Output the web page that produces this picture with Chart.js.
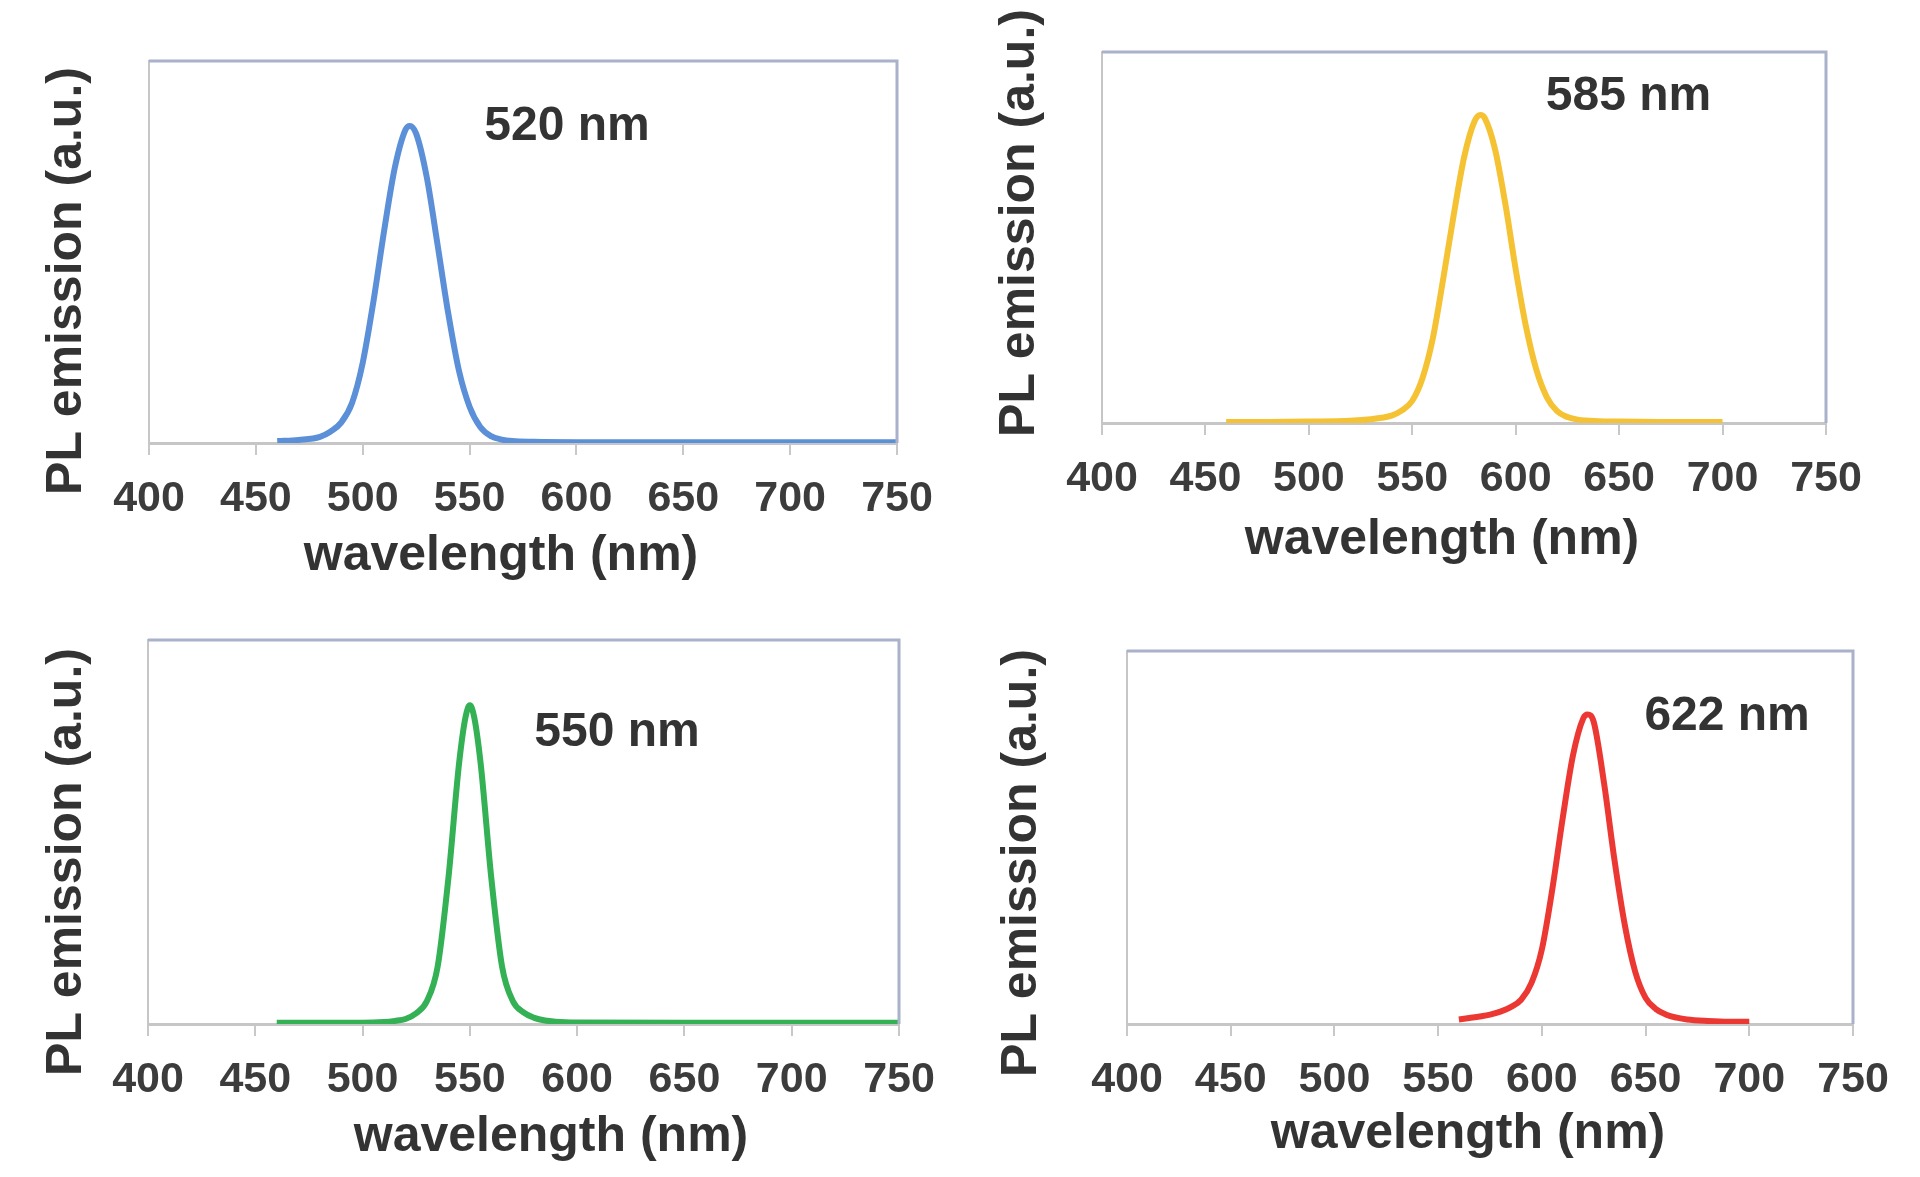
<!DOCTYPE html>
<html>
<head>
<meta charset="utf-8">
<title>PL emission spectra</title>
<script src="https://cdn.jsdelivr.net/npm/chart.js@4.4.1/dist/chart.umd.min.js"></script>
<style>
    html, body { margin: 0; padding: 0; background: #fff; }
    body { width: 1920px; height: 1177px; position: relative; overflow: hidden; }
    canvas { position: absolute; }
</style>
</head>
<body>
<canvas id="c520"></canvas>
<canvas id="c585"></canvas>
<canvas id="c550"></canvas>
<canvas id="c622"></canvas>
<script>
// x axis ticks (nm)
const waveTicks = [400, 450, 500, 550, 600, 650, 700, 750];

// blue, 520 nm
const wl520 = [460, 470, 480, 485, 490, 495, 500, 505, 510, 515, 520, 522, 525, 530, 535, 540, 545, 550, 555, 560, 565, 570, 580, 600, 650, 700, 750];
const pl520 = [0.005, 0.008, 0.016, 0.03, 0.054, 0.105, 0.21, 0.37, 0.555, 0.72, 0.82, 0.83, 0.81, 0.695, 0.52, 0.34, 0.19, 0.095, 0.042, 0.018, 0.009, 0.005, 0.003, 0.002, 0.002, 0.002, 0.002];

// yellow, 585 nm
const wl585 = [460, 480, 500, 520, 530, 535, 540, 545, 550, 555, 560, 565, 570, 575, 580, 583, 585, 590, 595, 600, 605, 610, 615, 620, 625, 630, 640, 650, 670, 700];
const pl585 = [0.003, 0.003, 0.004, 0.006, 0.01, 0.014, 0.02, 0.034, 0.06, 0.122, 0.23, 0.39, 0.56, 0.715, 0.812, 0.83, 0.822, 0.738, 0.59, 0.414, 0.259, 0.143, 0.07, 0.032, 0.016, 0.009, 0.005, 0.004, 0.003, 0.003];

// green, 550 nm
const wl550 = [460, 480, 500, 510, 515, 520, 525, 530, 535, 540, 545, 548, 550, 552, 555, 560, 565, 570, 575, 580, 585, 590, 600, 650, 700, 750];
const pl550 = [0.003, 0.003, 0.003, 0.005, 0.008, 0.013, 0.028, 0.06, 0.15, 0.38, 0.68, 0.8, 0.83, 0.8, 0.68, 0.38, 0.15, 0.06, 0.03, 0.016, 0.009, 0.006, 0.004, 0.003, 0.003, 0.003];

// red, 622 nm
const wl622 = [560, 565, 570, 575, 580, 585, 590, 595, 600, 605, 610, 615, 620, 622, 625, 630, 635, 640, 645, 650, 655, 660, 665, 670, 680, 690, 700];
const pl622 = [0.012, 0.016, 0.02, 0.025, 0.033, 0.045, 0.065, 0.11, 0.2, 0.36, 0.55, 0.72, 0.82, 0.83, 0.81, 0.645, 0.44, 0.265, 0.14, 0.07, 0.04, 0.025, 0.017, 0.012, 0.008, 0.006, 0.006];

const X_TITLE = 'wavelength (nm)';
const Y_TITLE = 'PL emission (a.u.)';

const FONT = "'Liberation Sans', Arial, sans-serif";
const PAD_TOP = 70;
const PAD_RIGHT = 70;
const X_AXIS_H = 150;

// area = plot box on the page; xTitle / yTitle = title centres on the page
const panels = [
    { id: 'c520', wl: wl520, pl: pl520, color: '#5b8fd8', label: '520 nm', labelAt: [595.6, 0.827],
      area: { l: 149, r: 897, t: 61, b: 443 }, yAxisW: 110, xTitle: [501, 556], yTitle: [67, 281] },
    { id: 'c585', wl: wl585, pl: pl585, color: '#f5c234', label: '585 nm', labelAt: [654.5, 0.879],
      area: { l: 1102, r: 1826, t: 52, b: 423 }, yAxisW: 111, xTitle: [1442, 540], yTitle: [1020, 223] },
    { id: 'c550', wl: wl550, pl: pl550, color: '#34b055', label: '550 nm', labelAt: [618.6, 0.758],
      area: { l: 148, r: 899, t: 640, b: 1024 }, yAxisW: 110, xTitle: [551, 1137], yTitle: [67, 862] },
    { id: 'c622', wl: wl622, pl: pl622, color: '#ec3833', label: '622 nm', labelAt: [689.3, 0.823],
      area: { l: 1127, r: 1853, t: 651, b: 1024 }, yAxisW: 133, xTitle: [1468, 1134], yTitle: [1022, 863] },
];

// light frame on the top and right edges, axis titles and the peak label
const framePlugin = {
    id: 'frameAndLabel',
    afterDraw(chart, args, opts) {
        const { ctx, chartArea: a, scales } = chart;
        ctx.save();
        ctx.strokeStyle = '#aab2cb';
        ctx.lineWidth = 3;
        ctx.beginPath();
        ctx.moveTo(a.left, a.top);
        ctx.lineTo(a.right, a.top);
        ctx.lineTo(a.right, a.bottom);
        ctx.stroke();

        ctx.fillStyle = '#333';
        ctx.textAlign = 'center';
        ctx.textBaseline = 'middle';
        ctx.font = `bold 48px ${FONT}`;
        ctx.fillText(opts.text, scales.x.getPixelForValue(opts.at[0]), scales.y.getPixelForValue(opts.at[1]));

        ctx.font = `bold 50px ${FONT}`;
        ctx.fillText(X_TITLE, opts.xTitle[0] - opts.origin[0], opts.xTitle[1] - opts.origin[1]);

        ctx.translate(opts.yTitle[0] - opts.origin[0], opts.yTitle[1] - opts.origin[1]);
        ctx.rotate(-Math.PI / 2);
        ctx.fillText(Y_TITLE, 0, 0);
        ctx.restore();
    },
};

panels.forEach((p) => {
    const canvas = document.getElementById(p.id);
    const w = p.yAxisW + (p.area.r - p.area.l) + PAD_RIGHT;
    const h = PAD_TOP + (p.area.b - p.area.t) + X_AXIS_H;
    const left = p.area.l - p.yAxisW;
    const top = p.area.t - PAD_TOP;
    canvas.width = w;
    canvas.height = h;
    canvas.style.width = `${w}px`;
    canvas.style.height = `${h}px`;
    canvas.style.left = `${left}px`;
    canvas.style.top = `${top}px`;

    new Chart(canvas, {
        type: 'line',
        data: {
            datasets: [{
                data: p.wl.map((x, i) => ({ x, y: p.pl[i] })),
                borderColor: p.color,
                borderWidth: 6,
                pointRadius: 0,
                cubicInterpolationMode: 'monotone',
                fill: false,
            }],
        },
        options: {
            responsive: false,
            animation: false,
            layout: { autoPadding: false, padding: { top: PAD_TOP, right: PAD_RIGHT, left: 0, bottom: 0 } },
            scales: {
                x: {
                    type: 'linear',
                    min: 400,
                    max: 750,
                    afterBuildTicks(scale) {
                        scale.ticks = waveTicks.map((value) => ({ value }));
                    },
                    afterFit(scale) { scale.height = X_AXIS_H; },
                    ticks: {
                        color: '#3c3c3c',
                        font: { family: FONT, size: 43, weight: 'bold' },
                        padding: 18,
                        maxRotation: 0,
                        autoSkip: false,
                    },
                    grid: {
                        drawOnChartArea: false,
                        drawTicks: true,
                        tickLength: 12,
                        color: '#c8c8c8',
                        lineWidth: 2,
                    },
                    border: { color: '#c6c6c6', width: 3 },
                },
                y: {
                    min: 0,
                    max: 1,
                    afterFit(scale) { scale.width = p.yAxisW; },
                    ticks: { display: false },
                    grid: { display: false },
                    border: { color: '#c6c6c6', width: 2 },
                },
            },
            plugins: {
                legend: { display: false },
                tooltip: { enabled: false },
                frameAndLabel: {
                    text: p.label,
                    at: p.labelAt,
                    xTitle: p.xTitle,
                    yTitle: p.yTitle,
                    origin: [left, top],
                },
            },
        },
        plugins: [framePlugin],
    });
});
</script>
</body>
</html>
